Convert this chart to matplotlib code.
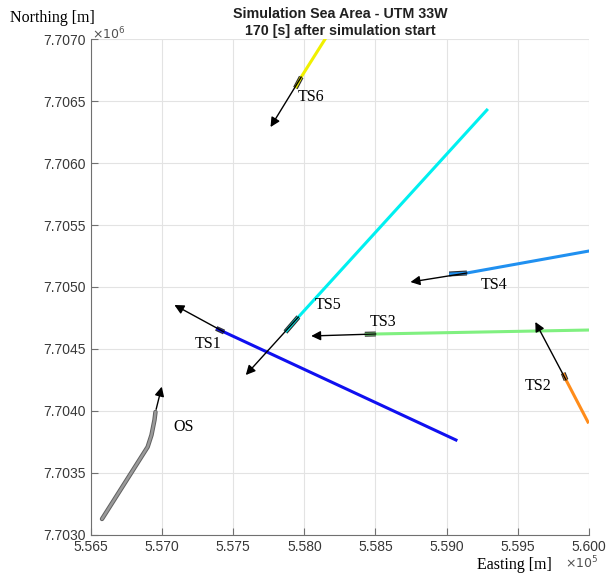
import numpy as np
import matplotlib
matplotlib.use('Agg')
import matplotlib.pyplot as plt
from matplotlib.ticker import FuncFormatter

# Track data (UTM 33W, metres)
os_east = [556577, 556898, 556925, 556946, 556953]
os_north = [7703129, 7703710, 7703806, 7703927, 7703992]
os_arrow = (557002, 7704218)

names = ['TS1', 'TS2', 'TS3', 'TS4', 'TS5', 'TS6']
colors = ['#1010f0', '#ff8c1a', '#80f080', '#2090f0', '#00f0f0', '#f0f000']
track_east = [[559066, 557435], [559994, 559840], [560000, 558502],
              [560000, 559143], [559283, 557958], [558146, 557978]]
track_north = [[7703766, 7704637], [7703911, 7704250], [7704653, 7704621],
               [7705290, 7705113], [7706427, 7704758], [7707000, 7706694]]
ship_front = [(557380, 7704666), (559820, 7704306), (558425, 7704619),
              (559018, 7705105), (557867, 7704637), (557937, 7706605)]
arrow_tip = [(557086, 7704855), (559624, 7704718), (558048, 7704605),
             (558746, 7705040), (557588, 7704290), (557762, 7706290)]
label_pos = [(557323, 7704540), (559645, 7704201), (558550, 7704718),
             (559331, 7705016), (558167, 7704855), (558048, 7706532)]
os_label = (557149, 7703871)

fig = plt.figure(figsize=(6.07, 5.74), dpi=100)
ax = fig.add_axes([0.15, 0.068, 0.82, 0.864])

serif = 'Liberation Serif'
sans = 'Liberation Sans'

# own ship
ax.plot(os_east, os_north, color='#606060', lw=3.2, solid_capstyle='round', zorder=3)
ax.plot(os_east, os_north, color='#9a9a9a', lw=1.8, solid_capstyle='round', zorder=3)
ax.annotate('', xy=os_arrow, xytext=(os_east[-1], os_north[-1]),
            arrowprops=dict(arrowstyle='-|>', color='k', lw=1.0, mutation_scale=14), zorder=5)
ax.text(*os_label, 'OS', family=serif, fontsize=11.5, ha='center', va='center')

for i, name in enumerate(names):
    ax.plot(track_east[i], track_north[i], color=colors[i], lw=2.2, zorder=3)
    sx, sy = track_east[i][-1], track_north[i][-1]
    fx, fy = ship_front[i]
    ax.plot([sx, fx], [sy, fy], color='#303030', lw=3.6, solid_capstyle='butt', zorder=4)
    ax.plot([sx, fx], [sy, fy], color=colors[i], lw=2.0, solid_capstyle='butt', zorder=4)
    ax.annotate('', xy=arrow_tip[i], xytext=(sx, sy),
                arrowprops=dict(arrowstyle='-|>', color='k', lw=1.0, mutation_scale=14,
                                shrinkA=0, shrinkB=0), zorder=5)
    ax.text(*label_pos[i], name, family=serif, fontsize=11.5, ha='center', va='center')

ax.set_xlim(556500, 560000)
ax.set_ylim(7703000, 7707000)
ax.set_xticks(np.arange(556500, 560001, 500))
ax.set_yticks(np.arange(7703000, 7707001, 500))
ax.xaxis.set_major_formatter(FuncFormatter(lambda v, p: f'{v / 1e5:.3f}'))
ax.yaxis.set_major_formatter(FuncFormatter(lambda v, p: f'{v / 1e6:.4f}'))
ax.grid(True, color='#e3e3e3', lw=0.8)
ax.set_axisbelow(True)
for s in ['top', 'right']:
    ax.spines[s].set_visible(False)
for s in ['left', 'bottom']:
    ax.spines[s].set_color('#707070')
ax.tick_params(direction='in', length=5, color='#707070', labelcolor='#383838', labelsize=10)
for lab in ax.get_xticklabels() + ax.get_yticklabels():
    lab.set_family(sans)

ax.set_title('Simulation Sea Area - UTM 33W\n170 [s] after simulation start',
             family=sans, fontweight='bold', fontsize=10.3, color='#202020', pad=3,
             linespacing=1.3)

fig.text(0.017, 0.968, 'Northing [m]', family=serif, fontsize=11.5, ha='left', va='center')
fig.text(0.152, 0.94, r'$\times10^{6}$', family=sans, fontsize=9, color='#505050',
         ha='left', va='center')
fig.text(0.91, 0.016, 'Easting [m]', family=serif, fontsize=11.5, ha='right', va='center')
fig.text(0.93, 0.02, r'$\times10^{5}$', family=sans, fontsize=9, color='#505050',
         ha='left', va='center')

fig.savefig('out.png', dpi=100)
